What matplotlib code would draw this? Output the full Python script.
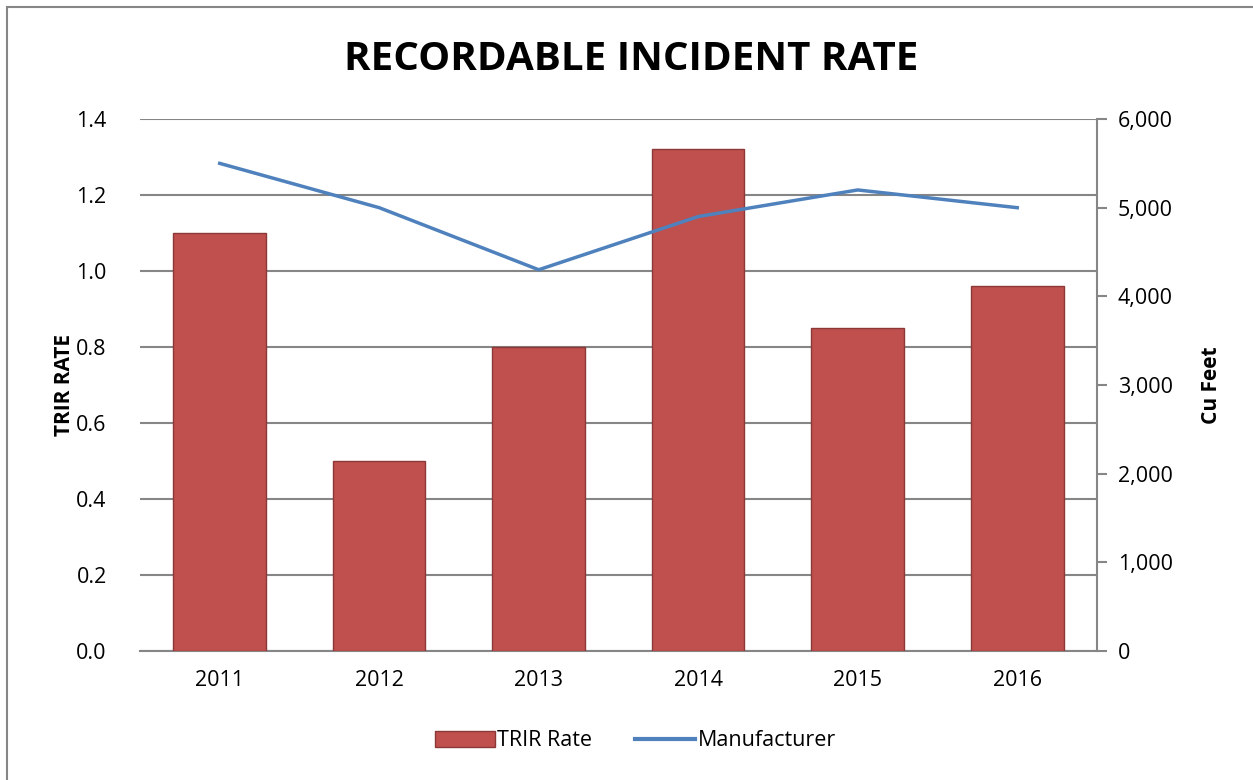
import matplotlib.pyplot as plt
import matplotlib.patches as mpatches
from matplotlib.ticker import FuncFormatter, MultipleLocator

plt.rcParams['font.family'] = ['Open Sans', 'DejaVu Sans']

years = ['2011', '2012', '2013', '2014', '2015', '2016']
trir = [1.10, 0.50, 0.80, 1.32, 0.85, 0.96]
manufacturer = [5500, 5000, 4300, 4900, 5200, 5000]

fig = plt.figure(figsize=(12.53, 7.8), dpi=100)
ax = fig.add_axes([0.1117, 0.1654, 0.7638, 0.682])
x = range(len(years))

ax.bar(x, trir, width=0.58, color='#C0504D', edgecolor='#8C3836', linewidth=1, zorder=3)
ax.set_ylim(0, 1.4)
ax.set_xlim(-0.5, len(years) - 0.5)
ax.yaxis.set_major_locator(MultipleLocator(0.2))
ax.yaxis.set_major_formatter(FuncFormatter(lambda v, p: f'{v:.1f}'))
ax.grid(axis='y', color='#868686', linewidth=1.5, zorder=0)
ax.set_xticks(list(x))
ax.set_xticklabels(years)
ax.tick_params(axis='y', length=0, pad=24, labelsize=15.5)
ax.tick_params(axis='x', length=0, pad=14, labelsize=15.5)
for s in ['top', 'left', 'right']:
    ax.spines[s].set_visible(False)
ax.spines['bottom'].set_color('#868686')
ax.spines['bottom'].set_linewidth(1.5)
ax.set_ylabel('TRIR RATE', fontsize=15, fontweight='bold', labelpad=1)

ax2 = ax.twinx()
ax2.plot(list(x), manufacturer, color='#4F81BD', linewidth=2.5, zorder=4)
ax2.set_ylim(0, 6000)
ax2.yaxis.set_major_locator(MultipleLocator(1000))
ax2.yaxis.set_major_formatter(FuncFormatter(lambda v, p: f'{int(v):,}'))
ax2.tick_params(axis='y', length=7, width=1.5, color='#868686', pad=8, labelsize=15.5)
for s in ['top', 'left', 'bottom']:
    ax2.spines[s].set_visible(False)
ax2.spines['right'].set_color('#868686')
ax2.spines['right'].set_linewidth(1.5)
ax2.set_ylabel('Cu Feet', fontsize=15, fontweight='bold', labelpad=20)

fig.suptitle('RECORDABLE INCIDENT RATE', x=0.504, y=0.924, va='center',
             fontsize=29, fontweight='bold')

h1 = mpatches.Patch(facecolor='#C0504D', edgecolor='#8C3836', label='TRIR Rate')
h2 = plt.Line2D([], [], color='#4F81BD', linewidth=3, label='Manufacturer')
fig.legend(handles=[h1, h2], loc='center', bbox_to_anchor=(0.507, 0.05), ncol=2,
           frameon=False, fontsize=15.5, handlelength=2.8, handletextpad=0.1, columnspacing=2.0)

border = mpatches.Rectangle((7 / 1253, -0.01), 1.02, 0.99 - 7 / 780 + 0.02,
                            transform=fig.transFigure, fill=False,
                            edgecolor='#868686', linewidth=1.5)
fig.patches.append(border)

fig.savefig('out.png', dpi=100)
